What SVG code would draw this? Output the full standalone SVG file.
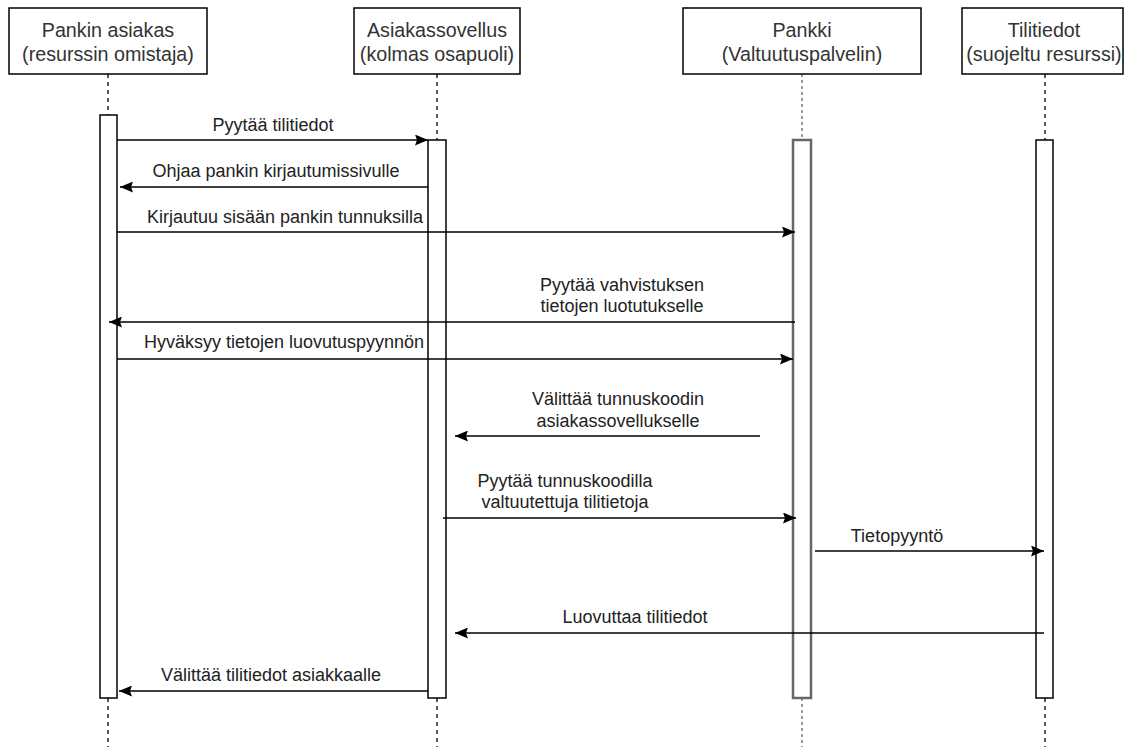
<svg xmlns="http://www.w3.org/2000/svg" width="1129" height="747" viewBox="0 0 1129 747">
<defs>
<marker id="ah" viewBox="0 0 13 11" refX="13" refY="5.5" markerWidth="13" markerHeight="11" markerUnits="userSpaceOnUse" orient="auto">
<path d="M0,0 L13,5.5 L0,11 L2,5.5 Z" fill="#000"/>
</marker>
</defs>
<style>
.hdr{fill:#fff;stroke:#000;stroke-width:1.5}
.ht{font-family:"Liberation Sans",Arial,sans-serif;font-size:19.7px;fill:#333;text-anchor:middle}
.life{stroke:#000;stroke-width:1.3;stroke-dasharray:4 4;fill:none}
.life.g{stroke:#666;stroke-dasharray:3 3}
.act{fill:#fff;stroke:#000;stroke-width:1.5}
.act.g{stroke:#666;stroke-width:2.5}
.msg{stroke:#000;stroke-width:1.5;fill:none;marker-end:url(#ah)}
.mt{font-family:"Liberation Sans",Arial,sans-serif;font-size:18px;fill:#222;text-anchor:middle}
</style>
<rect width="1129" height="747" fill="#fff"/>
<g id="lifelines">
<line class="life" x1="108" y1="74" x2="108" y2="747"/>
<line class="life" x1="437" y1="74" x2="437" y2="747"/>
<line class="life g" x1="802" y1="74" x2="802" y2="747"/>
<line class="life" x1="1045" y1="74" x2="1045" y2="747"/>
</g>
<g id="node-asiakas">
<rect class="hdr" x="9" y="8" width="198" height="66"/>
<text class="ht" x="108" y="37">Pankin asiakas</text>
<text class="ht" x="108" y="61">(resurssin omistaja)</text>
<rect class="act" x="100" y="115" width="17" height="583"/>
</g>
<g id="node-sovellus">
<rect class="hdr" x="354" y="8" width="166" height="66"/>
<text class="ht" x="437" y="37">Asiakassovellus</text>
<text class="ht" x="437" y="61">(kolmas osapuoli)</text>
<rect class="act" x="428" y="140" width="18" height="558"/>
</g>
<g id="node-pankki">
<rect class="hdr" x="683" y="8" width="238" height="66"/>
<text class="ht" x="802" y="37">Pankki</text>
<text class="ht" x="802" y="61">(Valtuutuspalvelin)</text>
<rect class="act g" x="793" y="140" width="18" height="558"/>
</g>
<g id="node-tilitiedot">
<rect class="hdr" x="962" y="8" width="161" height="66"/>
<text class="ht" x="1044" y="37">Tilitiedot</text>
<text class="ht" x="1044" y="61">(suojeltu resurssi)</text>
<rect class="act" x="1036" y="140" width="17" height="558"/>
</g>
<g id="connectors">
<line class="msg" x1="117" y1="140" x2="428" y2="140"/>
<text class="mt" x="273" y="131">Pyytää tilitiedot</text>
<line class="msg" x1="428" y1="187" x2="120" y2="187"/>
<text class="mt" x="276" y="177">Ohjaa pankin kirjautumissivulle</text>
<line class="msg" x1="117" y1="232" x2="795" y2="232"/>
<text class="mt" x="285" y="223">Kirjautuu sisään pankin tunnuksilla</text>
<line class="msg" x1="795" y1="322" x2="109" y2="322"/>
<text class="mt" x="622" y="291">Pyytää vahvistuksen</text>
<text class="mt" x="622" y="312">tietojen luotutukselle</text>
<line class="msg" x1="117" y1="359" x2="793" y2="359"/>
<text class="mt" x="284" y="348">Hyväksyy tietojen luovutuspyynnön</text>
<line class="msg" x1="760" y1="436" x2="455" y2="436"/>
<text class="mt" x="618" y="405">Välittää tunnuskoodin</text>
<text class="mt" x="618" y="427">asiakassovellukselle</text>
<line class="msg" x1="443" y1="518" x2="796" y2="518"/>
<text class="mt" x="565" y="487">Pyytää tunnuskoodilla</text>
<text class="mt" x="565" y="508">valtuutettuja tilitietoja</text>
<line class="msg" x1="815" y1="551" x2="1044" y2="551"/>
<text class="mt" x="897" y="542">Tietopyyntö</text>
<line class="msg" x1="1044" y1="633" x2="455" y2="633"/>
<text class="mt" x="635" y="623">Luovuttaa tilitiedot</text>
<line class="msg" x1="428" y1="691" x2="119" y2="691"/>
<text class="mt" x="271" y="681">Välittää tilitiedot asiakkaalle</text>
</g>
</svg>
